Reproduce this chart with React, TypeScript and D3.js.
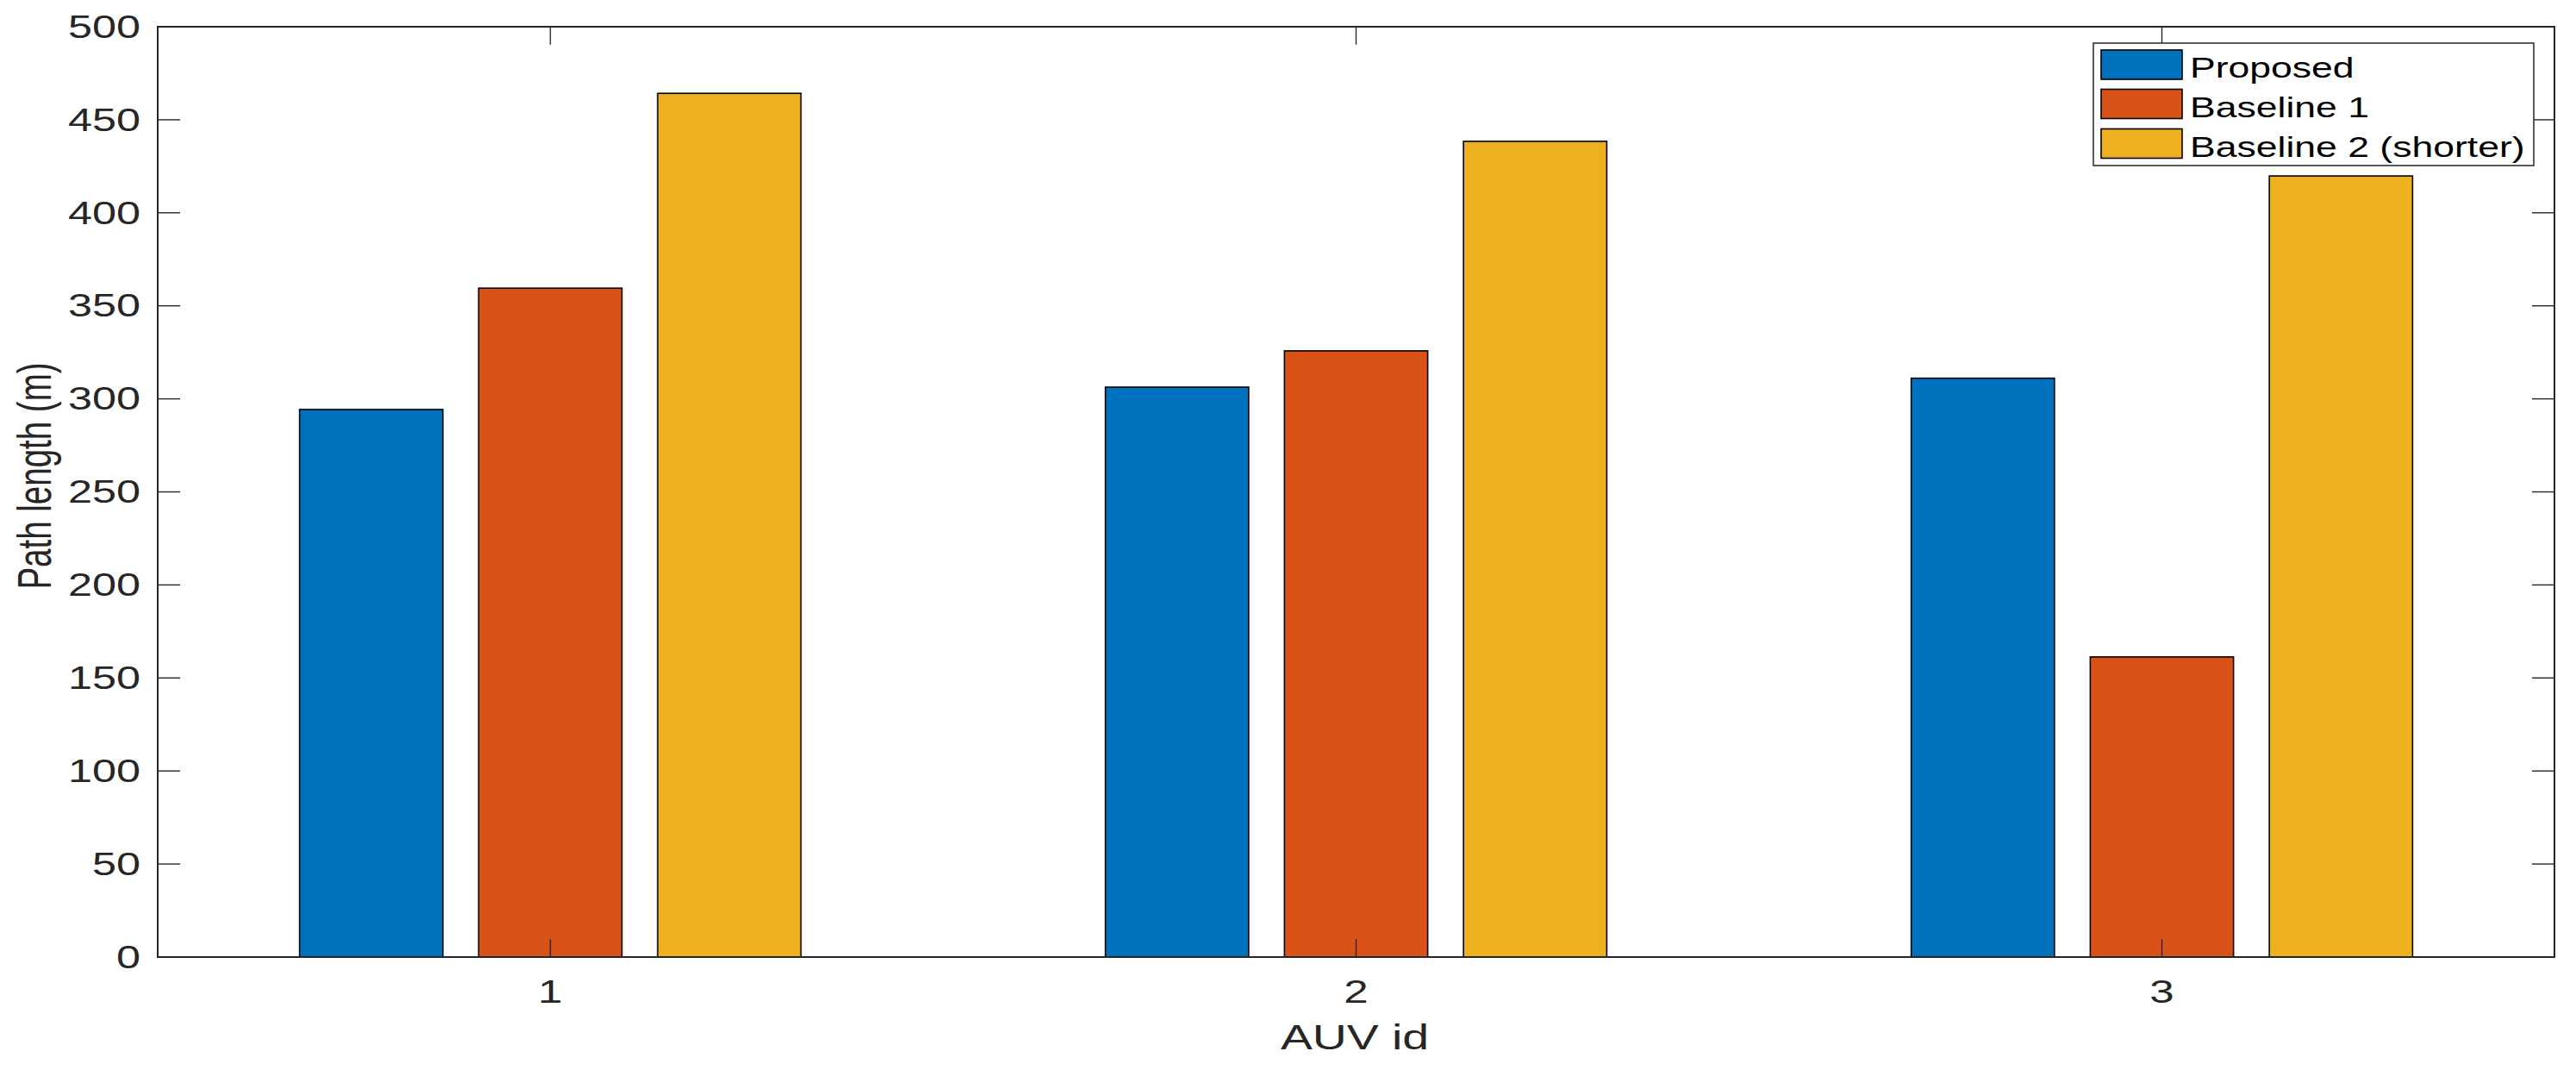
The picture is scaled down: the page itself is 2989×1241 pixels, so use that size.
import React from "react";
import * as d3 from "d3";

const categories = [1, 2, 3];
const seriesNames = ["Proposed", "Baseline 1", "Baseline 2 (shorter)"];
const proposed = [294.3, 306.3, 311.1];
const baseline1 = [359.5, 325.8, 161.3];
const baseline2 = [464.2, 438.4, 419.8];
const yTicks = [0, 50, 100, 150, 200, 250, 300, 350, 400, 450, 500];
const colors = ["#0072BD", "#D95319", "#EDB120"];

const W = 2989;
const H = 1241;
const FONT = "'Liberation Sans', Arial, Helvetica, sans-serif";
const AX = "#262626";

export default function App() {
  const series = [proposed, baseline1, baseline2];
  const left = 183, right = 2964, top = 31, bottom = 1110;
  const x = d3.scaleLinear().domain([1, 3]).range([638.5, 2508.5]);
  const y = d3.scaleLinear().domain([0, 500]).range([bottom, top]);
  const n = series.length;
  const groupW = Math.min(0.8, n / (n + 1.5));
  const barW = (groupW / n) * 0.8;
  const off = (i: number) => (i - (n - 1) / 2) * (groupW / n);
  const pxW = x(1 + barW) - x(1);
  const yTick = 26;
  const xTick = 20.7;

  const stretchText = (
    key: string,
    tx: number,
    ty: number,
    content: string,
    size: number,
    sx: number,
    anchor: string,
    color: string,
    extra?: string,
    baseline?: string
  ) => (
    <g key={key} transform={`translate(${tx},${ty}) scale(${sx},1)${extra ?? ""}`}>
      <text
        x={0}
        y={0}
        fontFamily={FONT}
        fontSize={size}
        textAnchor={anchor as any}
        dominantBaseline={(baseline ?? "auto") as any}
        fill={color}
      >
        {content}
      </text>
    </g>
  );

  const legX = 2429, legY = 50, legW = 2940 - 2429, legH = 192 - 50;
  const rowCenters = [75, 120.5, 166.5];

  return (
    <svg
      width={W}
      height={H}
      style={{ position: "absolute", left: 0, top: 0, background: "#fff" }}
    >
      <rect x={0} y={0} width={W} height={H} fill="#fff" />
      {/* bars */}
      {series.map((vals, si) =>
        vals.map((v, ci) => {
          const cx = x(categories[ci] + off(si));
          return (
            <rect
              key={`b${si}-${ci}`}
              x={cx - pxW / 2}
              y={y(v)}
              width={pxW}
              height={y(0) - y(v)}
              fill={colors[si]}
              stroke="#000"
              strokeWidth={1.6}
            />
          );
        })
      )}
      {/* y ticks */}
      {yTicks.map((t) => (
        <g key={`yt${t}`}>
          <line x1={left} x2={left + yTick} y1={y(t)} y2={y(t)} stroke={AX} strokeWidth={1.4} />
          <line x1={right} x2={right - yTick} y1={y(t)} y2={y(t)} stroke={AX} strokeWidth={1.4} />
        </g>
      ))}
      {/* x ticks */}
      {categories.map((c) => (
        <g key={`xt${c}`}>
          <line x1={x(c)} x2={x(c)} y1={bottom} y2={bottom - xTick} stroke={AX} strokeWidth={1.4} />
          <line x1={x(c)} x2={x(c)} y1={top} y2={top + xTick} stroke={AX} strokeWidth={1.4} />
        </g>
      ))}
      {/* box */}
      <rect x={left} y={top} width={right - left} height={bottom - top} fill="none" stroke={AX} strokeWidth={2} />
      {/* y tick labels */}
      {yTicks.map((t) =>
        stretchText(`yl${t}`, 163, y(t), d3.format("d")(t), 36, 1.4, "end", AX, "", "central")
      )}
      {/* x tick labels */}
      {categories.map((c) => stretchText(`xl${c}`, x(c), 1163, String(c), 37, 1.38, "middle", AX))}
      {/* axis labels */}
      {stretchText("xlab", 1572, 1217, "AUV id", 41, 1.35, "middle", AX)}
      {stretchText("ylab", 59, 552, "Path length (m)", 38.5, 1.45, "middle", AX, " rotate(-90)")}
      {/* legend */}
      <rect x={legX} y={legY} width={legW} height={legH} fill="#fff" stroke={AX} strokeWidth={1.5} />
      {seriesNames.map((name, i) => (
        <g key={`lg${i}`}>
          <rect
            x={2438}
            y={rowCenters[i] - 17}
            width={94}
            height={34}
            fill={colors[i]}
            stroke="#000"
            strokeWidth={1.6}
          />
          {stretchText(`lt${i}`, 2541, rowCenters[i] + 15, name, 33, 1.35, "start", "#000")}
        </g>
      ))}
    </svg>
  );
}
